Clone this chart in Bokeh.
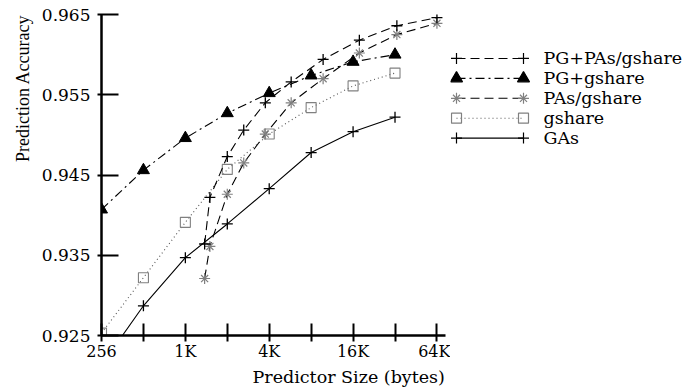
from bokeh.plotting import figure
from bokeh.models import Range1d, FixedTicker, PrintfTickFormatter, Title
from bokeh.layouts import row
from bokeh.embed import file_html
from bokeh.resources import INLINE
from bokeh.core.properties import value

# ---------------- data ----------------
sizes = [256, 512, 1024, 2048, 4096, 8192, 16384, 32768]
gas = [0.9213, 0.9287, 0.9347, 0.9389, 0.9433, 0.9478, 0.9504, 0.9522]
gshare = [0.9253, 0.9322, 0.9391, 0.9457, 0.9501, 0.9534, 0.9561, 0.9577]
pg_gshare = [0.9407, 0.9456, 0.9496, 0.9527, 0.9552, 0.9574, 0.9591, 0.9600]

combo_sizes = [1408, 1536, 2048, 2688, 3840, 5888, 9984, 18176, 33792, 65536]
pg_pas_gshare = [0.9364, 0.9422, 0.9473, 0.9506, 0.9540, 0.9566, 0.9594, 0.9618, 0.9636, 0.9646]
pas_gshare = [0.9321, 0.9361, 0.9426, 0.9465, 0.9501, 0.9540, 0.9570, 0.9602, 0.9625, 0.9639]

x_ticks = [256, 1024, 4096, 16384, 65536]
x_minor = [512, 2048, 8192, 32768]
x_tick_labels = ["256", "1K", "4K", "16K", "64K"]
y_ticks = [0.925, 0.935, 0.945, 0.955, 0.965]

series_names = ["PG+PAs/gshare", "PG+gshare", "PAs/gshare", "gshare", "GAs"]
x_title = "Predictor Size (bytes)"
y_title = "Prediction Accuracy"

SERIF = "DejaVu Serif"
GRAY = "#808080"

# ---------------- main plot ----------------
p = figure(width=450, height=387, x_axis_type="log",
           x_range=Range1d(256, 75500), y_range=Range1d(0.925, 0.965),
           output_backend="svg", toolbar_location=None,
           min_border_left=101, min_border_right=5,
           min_border_top=14, min_border_bottom=50)
p.outline_line_color = None
p.grid.visible = False

xa = p.xaxis[0]
xa.ticker = FixedTicker(ticks=x_ticks, minor_ticks=x_minor)
xa.major_label_overrides = dict(zip(x_ticks, x_tick_labels))
xa.axis_line_width = 2.5
xa.axis_line_color = "black"
xa.major_tick_in = 12
xa.major_tick_out = 6
xa.minor_tick_in = 12
xa.minor_tick_out = 6
xa.major_tick_line_width = 2
xa.minor_tick_line_width = 2
xa.major_tick_line_color = "black"
xa.minor_tick_line_color = "black"
xa.major_label_standoff = 0
xa.major_label_text_font = SERIF
xa.major_label_text_font_size = "16px"
xa.major_label_text_color = "black"

ya = p.yaxis[0]
ya.ticker = FixedTicker(ticks=y_ticks, minor_ticks=[])
ya.formatter = PrintfTickFormatter(format="%.3f")
ya.axis_line_width = 2.5
ya.axis_line_color = "black"
ya.major_tick_in = 17
ya.major_tick_out = 4
ya.minor_tick_in = 0
ya.minor_tick_out = 0
ya.major_tick_line_width = 2
ya.major_tick_line_color = "black"
ya.major_label_standoff = 7
ya.major_label_text_font = SERIF
ya.major_label_text_font_size = "17px"
ya.major_label_text_color = "black"

# GAs: solid with +
p.line(sizes, gas, line_color="black", line_width=1.1)
p.scatter(sizes, gas, marker="cross", size=11, line_color="black", line_width=1.3)

# gshare: dotted with squares
p.line(sizes, gshare, line_color="#555555", line_width=1.1, line_dash="1 3")
p.scatter(sizes, gshare, marker="square", size=10, line_color=GRAY,
          fill_color=None, line_width=1.1)

# PG+gshare: dash-dot with filled triangles
p.line(sizes, pg_gshare, line_color="black", line_width=1.1, line_dash="9 4 2 4")
p.scatter(sizes, pg_gshare, marker="triangle", size=12, line_color="black",
          fill_color="black")

# PAs/gshare: dashed with gray asterisks
p.line(combo_sizes, pas_gshare, line_color="black", line_width=1.1, line_dash="9 5")
p.scatter(combo_sizes, pas_gshare, marker="cross", size=11, line_color=GRAY, line_width=1.2)
p.scatter(combo_sizes, pas_gshare, marker="x", size=10, line_color=GRAY, line_width=1.2)

# PG+PAs/gshare: dashed with +
p.line(combo_sizes, pg_pas_gshare, line_color="black", line_width=1.1, line_dash="9 5")
p.scatter(combo_sizes, pg_pas_gshare, marker="cross", size=11, line_color="black", line_width=1.3)

# axis titles (as plot titles so they can be offset like the reference)
p.add_layout(Title(text=x_title, align="left", offset=151, standoff=2,
                   text_font=SERIF, text_font_size="17.5px",
                   text_font_style="normal", text_color="black"), "below")
p.add_layout(Title(text=y_title, align="right", offset=0, standoff=12,
                   text_font="Liberation Serif", text_font_size="18px",
                   text_font_style="normal", text_color="black"), "left")

# ---------------- legend panel ----------------
leg = figure(width=249, height=387, x_range=Range1d(0, 249), y_range=Range1d(387, 0),
             output_backend="svg", toolbar_location=None, min_border=0,
             x_axis_location=None, y_axis_location=None)
leg.outline_line_color = None
leg.grid.visible = False

rows_y = [53, 77, 101, 125, 149]
xl, xr, xt = 6, 73, 93
styles = [
    dict(dash="9 5", lc="black", markers=[("cross", "black", None, 11)]),
    dict(dash="9 4 2 4", lc="black", markers=[("triangle", "black", "black", 12)]),
    dict(dash="9 5", lc="black", markers=[("cross", GRAY, None, 11), ("x", GRAY, None, 10)]),
    dict(dash="1 3", lc="#555555", markers=[("square", GRAY, None, 10)]),
    dict(dash="solid", lc="black", markers=[("cross", "black", None, 11)]),
]
for yy, st, name in zip(rows_y, styles, series_names):
    leg.line([xl, xr], [yy, yy], line_color=st["lc"], line_width=1.1, line_dash=st["dash"])
    for mk, lc, fc, sz in st["markers"]:
        leg.scatter([xl, xr], [yy, yy], marker=mk, size=sz, line_color=lc,
                    fill_color=fc, line_width=1.2)
    leg.text([xt], [yy], text=[name], text_font=value(SERIF), text_font_size="17.5px",
             text_align="left", text_baseline="middle", text_color="black")

layout = row(p, leg, spacing=0)
open("out.html", "w").write(file_html(layout, INLINE))
